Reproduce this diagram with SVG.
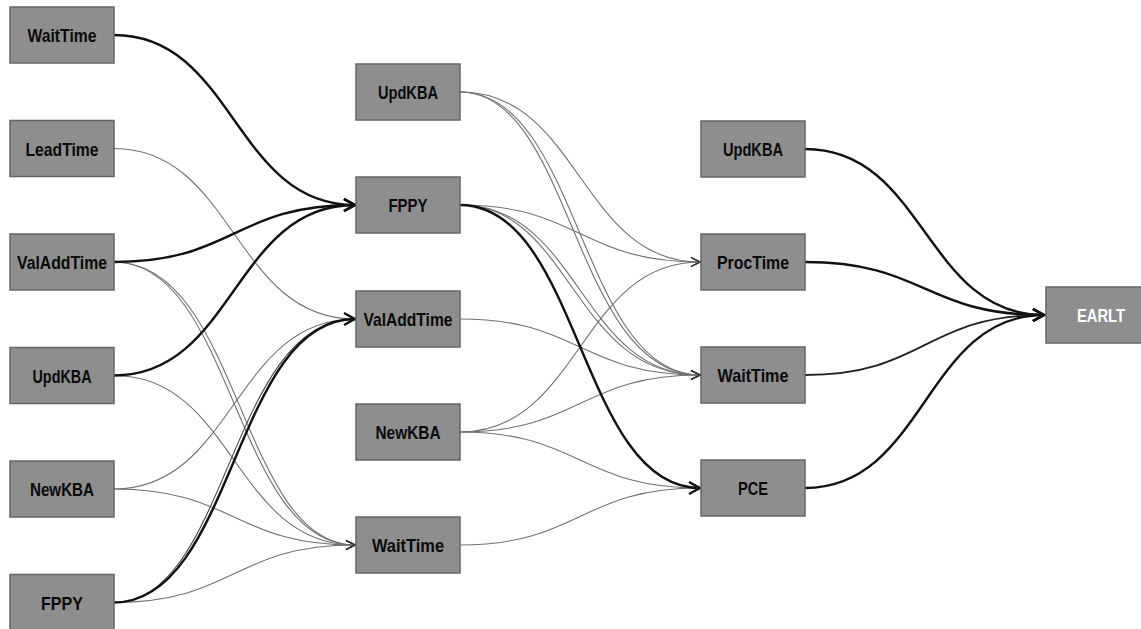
<svg xmlns="http://www.w3.org/2000/svg" width="1141" height="629" viewBox="0 0 1141 629">
  <style>
    .node rect { fill: #8e8e8e; stroke: #666; stroke-width: 1.5; }
    .node text { font-family: "Liberation Sans", Arial, sans-serif; font-weight: bold; font-size: 19px; fill: #0a0a0a; text-anchor: middle; }
    .node.sink text { fill: #fff; }
    .edge { fill: none; }
    .bold { stroke: #111; stroke-width: 2.4; marker-end: url(#arrowBold); }
    .thin { stroke: #707070; stroke-width: 1.1; marker-end: url(#arrowThin); }
    .dark { stroke: #444; }
    .mid { stroke: #222; stroke-width: 1.8; marker-end: url(#arrowBold); }
  </style>
  <defs>
    <marker id="arrowBold" viewBox="-13 -8 15 16" markerWidth="15" markerHeight="16" refX="0" refY="0" markerUnits="userSpaceOnUse" orient="auto">
      <path d="M-11,-6 L0,0 L-11,6" fill="none" stroke="#111" stroke-width="2.4"/>
    </marker>
    <marker id="arrowThin" viewBox="-11 -6 12 12" markerWidth="12" markerHeight="12" refX="0" refY="0" markerUnits="userSpaceOnUse" orient="auto">
      <path d="M-9,-4.5 L0,0 L-9,4.5" fill="none" stroke="#333" stroke-width="1.2"/>
    </marker>
  </defs>
  <rect width="1141" height="629" fill="#fff"/>

  <!-- connectors: cubic S-curves between column edges -->
  <g id="connectors">
    <!-- column 1 to column 2 -->
    <path class="edge thin" d="M114,148.5 C234,148.5 234,319 355,319"/>
    <path class="edge thin" d="M114,262 C234,262 234,545 355,545"/>
    <path class="edge thin" d="M114,262 C240,262 240,545 355,545"/>
    <path class="edge thin" d="M114,375.5 C234,375.5 234,545 355,545"/>
    <path class="edge thin" d="M114,489 C234,489 234,319 355,319"/>
    <path class="edge thin" d="M114,489 C234,489 234,545 355,545"/>
    <path class="edge thin" d="M114,602.5 C234,602.5 234,545 355,545"/>
    <path class="edge thin dark" d="M114,602.5 C229,602.5 229,319 355,319"/>
    <path class="edge bold" d="M114,35 C234,35 234,205 355,205"/>
    <path class="edge bold" d="M114,262 C234,262 234,205 355,205"/>
    <path class="edge bold" d="M114,375.5 C234,375.5 234,205 355,205"/>
    <path class="edge bold" d="M114,602.5 C234,602.5 234,319 355,319"/>

    <!-- column 2 to column 3 -->
    <path class="edge thin" d="M460,92 C580,92 580,262 700,262"/>
    <path class="edge thin" d="M460,92 C580,92 580,375 700,375"/>
    <path class="edge thin" d="M460,92 C573,92 573,375 700,375"/>
    <path class="edge thin" d="M460,205 C580,205 580,262 700,262"/>
    <path class="edge thin" d="M460,205 C580,205 580,375 700,375"/>
    <path class="edge thin" d="M460,205 C572,205 572,375 700,375"/>
    <path class="edge thin" d="M460,319 C580,319 580,375 700,375"/>
    <path class="edge thin" d="M460,432 C580,432 580,262 700,262"/>
    <path class="edge thin" d="M460,432 C580,432 580,375 700,375"/>
    <path class="edge thin" d="M460,432 C580,432 580,488 700,488"/>
    <path class="edge thin" d="M460,545 C580,545 580,488 700,488"/>
    <path class="edge bold" d="M460,205 C580,205 580,488 700,488"/>

    <!-- column 3 to EARLT -->
    <path class="edge bold" d="M805,149 C925,149 925,315 1044,315"/>
    <path class="edge bold" d="M805,262 C925,262 925,315 1044,315"/>
    <path class="edge mid" d="M805,375 C925,375 925,315 1044,315"/>
    <path class="edge bold" d="M805,488 C925,488 925,315 1044,315"/>
  </g>

  <!-- column 1 -->
  <g id="c1-waittime" class="node"><rect x="10" y="7" width="104" height="56"/><text x="62" y="42" textLength="69" lengthAdjust="spacingAndGlyphs">WaitTime</text></g>
  <g id="c1-leadtime" class="node"><rect x="10" y="120.5" width="104" height="56"/><text x="62" y="155.5" textLength="73" lengthAdjust="spacingAndGlyphs">LeadTime</text></g>
  <g id="c1-valaddtime" class="node"><rect x="10" y="234" width="104" height="56"/><text x="62" y="269" textLength="90" lengthAdjust="spacingAndGlyphs">ValAddTime</text></g>
  <g id="c1-updkba" class="node"><rect x="10" y="347.5" width="104" height="56"/><text x="62" y="382.5" textLength="59" lengthAdjust="spacingAndGlyphs">UpdKBA</text></g>
  <g id="c1-newkba" class="node"><rect x="10" y="461" width="104" height="56"/><text x="62" y="496" textLength="64" lengthAdjust="spacingAndGlyphs">NewKBA</text></g>
  <g id="c1-fppy" class="node"><rect x="10" y="574.5" width="104" height="56"/><text x="62" y="609.5" textLength="42" lengthAdjust="spacingAndGlyphs">FPPY</text></g>

  <!-- column 2 -->
  <g id="c2-updkba" class="node"><rect x="356" y="64" width="104" height="56"/><text x="408" y="99" textLength="60" lengthAdjust="spacingAndGlyphs">UpdKBA</text></g>
  <g id="c2-fppy" class="node"><rect x="356" y="177" width="104" height="56"/><text x="408" y="212" textLength="39" lengthAdjust="spacingAndGlyphs">FPPY</text></g>
  <g id="c2-valaddtime" class="node"><rect x="356" y="291" width="104" height="56"/><text x="408" y="326" textLength="89" lengthAdjust="spacingAndGlyphs">ValAddTime</text></g>
  <g id="c2-newkba" class="node"><rect x="356" y="404" width="104" height="56"/><text x="408" y="439" textLength="65" lengthAdjust="spacingAndGlyphs">NewKBA</text></g>
  <g id="c2-waittime" class="node"><rect x="356" y="517" width="104" height="56"/><text x="408" y="552" textLength="72" lengthAdjust="spacingAndGlyphs">WaitTime</text></g>

  <!-- column 3 -->
  <g id="c3-updkba" class="node"><rect x="701" y="121" width="104" height="56"/><text x="753" y="156" textLength="60" lengthAdjust="spacingAndGlyphs">UpdKBA</text></g>
  <g id="c3-proctime" class="node"><rect x="701" y="234" width="104" height="56"/><text x="753" y="269" textLength="72" lengthAdjust="spacingAndGlyphs">ProcTime</text></g>
  <g id="c3-waittime" class="node"><rect x="701" y="347" width="104" height="56"/><text x="753" y="382" textLength="71" lengthAdjust="spacingAndGlyphs">WaitTime</text></g>
  <g id="c3-pce" class="node"><rect x="701" y="460" width="104" height="56"/><text x="753" y="495" textLength="30" lengthAdjust="spacingAndGlyphs">PCE</text></g>

  <!-- sink -->
  <g id="earlt" class="node sink"><rect x="1046" y="287" width="104" height="56"/><text x="1101" y="322" textLength="48" lengthAdjust="spacingAndGlyphs">EARLT</text></g>
</svg>
